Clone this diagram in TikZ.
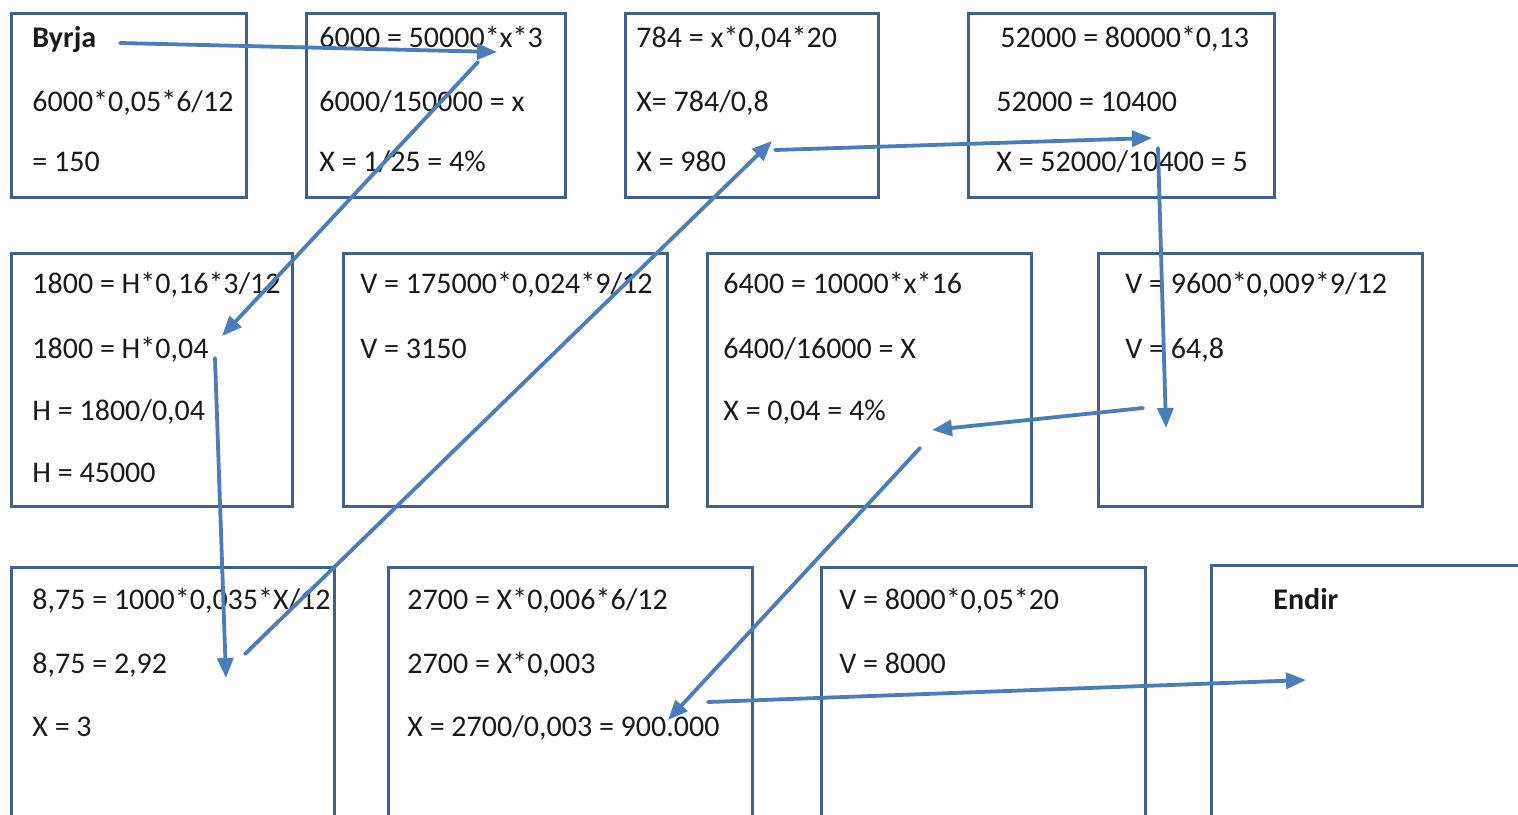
\documentclass[tikz,border=0pt]{standalone}
\usepackage{fontspec}
\setmainfont{Carlito}
\usetikzlibrary{arrows.meta}
\definecolor{boxline}{HTML}{3F618C}
\definecolor{flow}{HTML}{4A7EBB}
\definecolor{ink}{HTML}{1A1A1A}
\tikzset{
  cellbox/.style={draw=boxline, line width=1.3pt, anchor=north west, inner sep=0pt},
  txt/.style={anchor=base west, inner sep=0pt, text=ink, font=\fontsize{15}{18}\selectfont},
  flowarrow/.style={draw=flow, line width=1.9pt, line cap=round, -{Triangle[length=10pt,width=8pt]}}
}
% \mkcell{name}{x1}{y1}{x2}{y2}: framed cell given by its corners
\newcommand\mkcell[5]{\node[cellbox, minimum width={(#4-#2)*0.5pt}, minimum height={(#5-#3)*0.5pt}] (#1) at (#2,#3) {};}
\begin{document}
\begin{tikzpicture}[x=0.5pt, y=-0.5pt]
\useasboundingbox (0,0) rectangle (1518,814);
\clip (0,0) rectangle (1518,814);
\fill[white] (0,0) rectangle (1518,814);

% first row
\mkcell{A}{10}{12}{245}{196}
\mkcell{B}{305}{12}{564}{196}
\mkcell{C}{624}{12}{877}{196}
\mkcell{D}{967}{12}{1273}{196}
% second row
\mkcell{E}{10}{252}{291}{505}
\mkcell{F}{342}{252}{666}{505}
\mkcell{G}{706}{252}{1030}{505}
\mkcell{H}{1097}{252}{1421}{505}
% third row, running past the lower edge
\mkcell{I}{10}{566}{333}{840}
\mkcell{J}{387}{566}{751}{840}
\mkcell{K}{820}{566}{1144}{840}
\mkcell{L}{1210}{564}{1560}{840}

% texts of the first row
\node[txt, font=\fontsize{15}{18}\bfseries] (a1) at (32,47) {Byrja};
\node[txt] (a2) at (32,111) {6000*0,05*6/12};
\node[txt] (a3) at (32,171) {= 150};
\node[txt] (b1) at (319,47) {6000 = 50000*x*3};
\node[txt] (b2) at (319,111) {6000/150000 = x};
\node[txt] (b3) at (319,171) {X = 1/25 = 4\%};
\node[txt] (c1) at (636,47) {784 = x*0,04*20};
\node[txt] (c2) at (636,111) {X= 784/0,8};
\node[txt] (c3) at (636,171) {X = 980};
\node[txt] (d1) at (1000,47) {52000 = 80000*0,13};
\node[txt] (d2) at (996,111) {52000 = 10400};
\node[txt] (d3) at (996,171) {X = 52000/10400 = 5};

% texts of the second row
\node[txt] (e1) at (32,293) {1800 = H*0,16*3/12};
\node[txt] (e2) at (32,358) {1800 = H*0,04};
\node[txt] (e3) at (32,420) {H = 1800/0,04};
\node[txt] (e4) at (32,482) {H = 45000};
\node[txt] (f1) at (360,293) {V = 175000*0,024*9/12};
\node[txt] (f2) at (360,358) {V = 3150};
\node[txt] (g1) at (723,293) {6400 = 10000*x*16};
\node[txt] (g2) at (723,358) {6400/16000 = X};
\node[txt] (g3) at (723,420) {X = 0,04 = 4\%};
\node[txt] (h1) at (1125,293) {V = 9600*0,009*9/12};
\node[txt] (h2) at (1125,358) {V = 64,8};

% texts of the third row
\node[txt] (i1) at (32,609) {8,75 = 1000*0,035*X/12};
\node[txt] (i2) at (32,673) {8,75 = 2,92};
\node[txt] (i3) at (32,736) {X = 3};
\node[txt] (j1) at (407,609) {2700 = X*0,006*6/12};
\node[txt] (j2) at (407,673) {2700 = X*0,003};
\node[txt] (j3) at (407,736) {X = 2700/0,003 = 900.000};
\node[txt] (k1) at (839,609) {V = 8000*0,05*20};
\node[txt] (k2) at (839,673) {V = 8000};
\node[txt, font=\fontsize{15}{18}\bfseries] (l1) at (1273,609) {Endir};

% ends of the path through the cells
\coordinate (p0) at (120,43);
\coordinate (p1) at (497,52);
\coordinate (q0) at (478,62);
\coordinate (q1) at (222,336);
\coordinate (r0) at (215,358);
\coordinate (r1) at (226,678);
\coordinate (s0) at (245,654);
\coordinate (s1) at (772,141);
\coordinate (t0) at (775,150);
\coordinate (t1) at (1152,138);
\coordinate (u0) at (1158,148);
\coordinate (u1) at (1166,428);
\coordinate (v0) at (1143,408);
\coordinate (v1) at (932,430);
\coordinate (w0) at (920,448);
\coordinate (w1) at (668,720);
\coordinate (z0) at (708,702);
\coordinate (z1) at (1306,680);

\draw[flowarrow] (p0) -- (p1);
\draw[flowarrow] (q0) -- (q1);
\draw[flowarrow] (r0) -- (r1);
\draw[flowarrow] (s0) -- (s1);
\draw[flowarrow] (t0) -- (t1);
\draw[flowarrow] (u0) -- (u1);
\draw[flowarrow] (v0) -- (v1);
\draw[flowarrow] (w0) -- (w1);
\draw[flowarrow] (z0) -- (z1);
\end{tikzpicture}
\end{document}
